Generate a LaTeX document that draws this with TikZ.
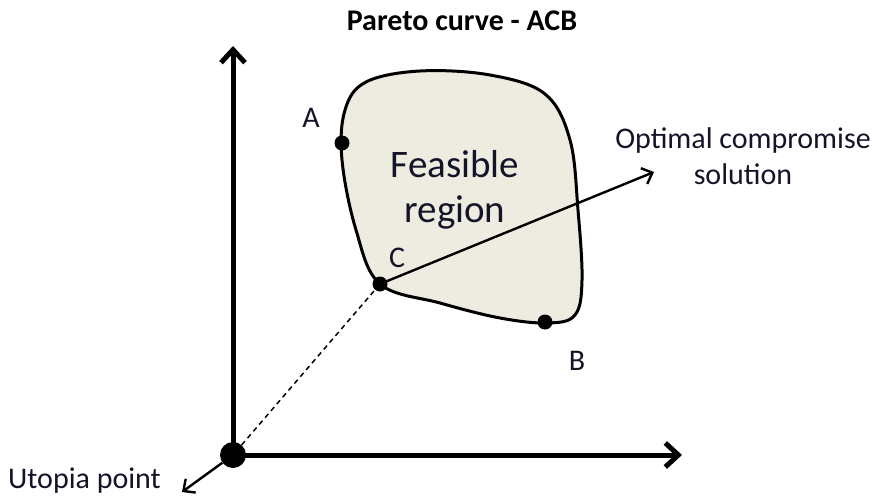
\documentclass[tikz,border=0pt]{standalone}
\usepackage{fontspec}
\setmainfont{Carlito}
\usetikzlibrary{arrows.meta}
\definecolor{feas}{RGB}{238,236,225}
\definecolor{txt}{RGB}{20,20,40}
\begin{document}
\begin{tikzpicture}[x=1pt,y=-1pt,
  axis/.style={line width=5pt,-{Straight Barb[length=13pt,width=24pt,line width=5pt]}},
  thinarrow/.style={line width=2.4pt,-{Straight Barb[length=9pt,width=17pt,line width=2.4pt]}},
  dot/.style={circle,fill=black,inner sep=0pt,minimum size=15pt},
  lbl/.style={font=\fontsize{30}{36}\selectfont,text=txt,inner sep=0pt}]
\useasboundingbox (0,0) rectangle (872,497);
% feasible region
\draw[line width=3pt,fill=feas] plot[smooth cycle,tension=0.6] coordinates {
 (380,284) (356,230) (342,160) (345,110) (366,82) (420,71) (490,75) (545,94)
 (570,140) (578,210) (582,280) (575,315) (548,323) (500,318) (440,303)};
\node[font=\fontsize{39}{45}\selectfont,text=txt,align=center] (feas) at (455,190) {Feasible\\region};
% axes
\coordinate (O) at (233,455);
\coordinate (ytip) at (233,46);
\coordinate (xtip) at (682,455);
\draw[axis] (O) -- (ytip);
\draw[axis] (O) -- (xtip);
% points
\node[dot] (C) at (380,284) {};
\node[dot] (A) at (342,143) {};
\node[dot] (B) at (545,322) {};
\node[dot,minimum size=26pt] (orig) at (O) {};
\draw[line width=1.5pt,dash pattern=on 5pt off 4pt] (orig) -- (C);
\coordinate (opt) at (654,172);
\draw[thinarrow] (C.center) -- (opt);
\coordinate (utop) at (182,492);
\draw[thinarrow] (orig) -- (utop);
% labels
\node[lbl] (lA) at (311,118) {A};
\node[lbl] (lB) at (577,361) {B};
\node[lbl] (lC) at (397,258) {C};
\node[lbl,align=center] (lopt) at (743,156) {Optimal compromise\\solution};
\node[lbl,anchor=west] (lut) at (8,481) {Utopia point};
\node[font=\fontsize{30}{36}\selectfont\bfseries,inner sep=0pt] (title) at (462,21) {Pareto curve - ACB};
\end{tikzpicture}
\end{document}
